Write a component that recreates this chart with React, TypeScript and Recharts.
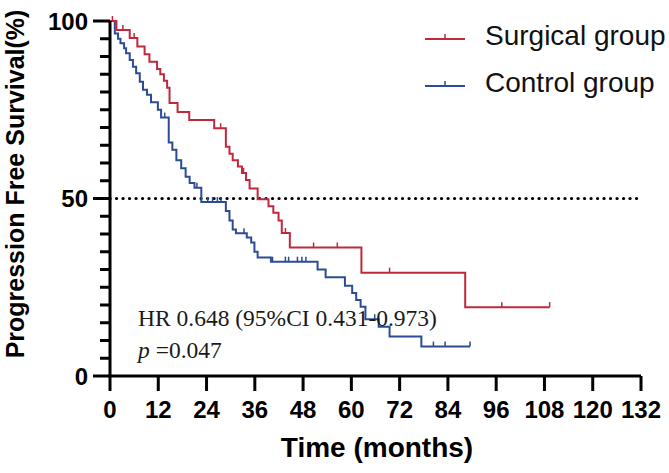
import React from "react";
import { ComposedChart, Line, Scatter, XAxis, YAxis, ReferenceLine, Legend, Label } from "recharts";

// Kaplan-Meier steps (time in months, survival in %)
const surgicalTimes = [0, 1.6, 4.9, 6.8, 8.6, 9.8, 11.7, 12.5, 13.4, 14.2, 14.8, 16.8, 19.7, 25.9, 28.8, 29.7, 30.5, 31.8, 32.8, 33.8, 34.7, 36.7, 39.4, 40.6, 41.9, 42.7, 44.7, 62.5, 88.3, 109.3];
const surgicalSurvival = [100, 97.5, 95.2, 92.8, 90.6, 88.5, 86.5, 85.0, 83.2, 81.2, 76.9, 74.4, 72.1, 69.8, 64.6, 62.6, 60.8, 59.0, 57.2, 55.2, 52.8, 49.8, 47.8, 46.0, 43.8, 40.3, 36.2, 29.1, 19.4, 19.4];
const surgicalCensorTimes = [0.6, 3.2, 6.0, 27.5, 33.2, 43.6, 50.6, 56.5, 69.5, 97.4, 109.3];
const surgicalCensorSurvival = [100, 97.5, 95.2, 69.8, 57.2, 40.3, 36.2, 36.2, 29.1, 19.4, 19.4];

const controlTimes = [0, 1.2, 2.0, 2.6, 3.5, 4.0, 4.9, 5.7, 6.5, 7.4, 8.2, 9.2, 10.2, 11.9, 12.7, 14.6, 15.5, 16.5, 17.7, 18.8, 19.8, 21.0, 22.7, 28.8, 29.7, 30.5, 31.3, 34.0, 35.1, 35.9, 36.7, 40.0, 51.6, 53.6, 58.4, 60.2, 61.2, 62.3, 63.5, 66.8, 69.5, 77.4, 89.5];
const controlSurvival = [100, 96.5, 95.0, 93.7, 92.3, 90.9, 89.0, 87.1, 85.3, 82.9, 80.6, 79.2, 77.1, 75.0, 72.8, 65.8, 63.7, 60.8, 58.5, 56.1, 54.4, 53.0, 49.0, 46.5, 43.8, 41.3, 40.2, 39.0, 37.6, 35.0, 33.4, 32.2, 30.0, 27.8, 25.4, 23.4, 21.4, 19.5, 16.0, 13.9, 11.1, 8.3, 8.3];
const controlCensorTimes = [13.6, 21.6, 24.3, 25.5, 26.7, 27.6, 33.3, 40.4, 43.6, 44.4, 46.6, 47.7, 48.7, 65.8, 80.4, 83.3, 89.5];
const controlCensorSurvival = [72.8, 53.0, 49.0, 49.0, 49.0, 49.0, 40.2, 32.2, 32.2, 32.2, 32.2, 32.2, 32.2, 16.0, 8.3, 8.3, 8.3];

const xTicks = [0, 12, 24, 36, 48, 60, 72, 84, 96, 108, 120, 132];
const yTicks = [0, 5, 10, 15, 20, 25, 30, 35, 40, 45, 50, 55, 60, 65, 70, 75, 80, 85, 90, 95, 100];
const yLabelled = [0, 50, 100];

const RED = "#c0283c";
const BLUE = "#2c4b95";
const SANS = "'Liberation Sans', Arial, sans-serif";
const SERIF = "'Liberation Serif', 'Times New Roman', serif";

const legendItems = [
  { name: "Surgical group", color: RED },
  { name: "Control group", color: BLUE },
];

const toRows = (t: number[], s: number[]) => t.map((v, i) => ({ t: v, s: s[i] }));

const surgical = toRows(surgicalTimes, surgicalSurvival);
const control = toRows(controlTimes, controlSurvival);
const surgicalCensor = toRows(surgicalCensorTimes, surgicalCensorSurvival);
const controlCensor = toRows(controlCensorTimes, controlCensorSurvival);

const censorMark = (color: string) => (props: any) => {
  const { cx, cy } = props;
  return <line x1={cx} x2={cx} y1={cy - 5} y2={cy} stroke={color} strokeWidth={1.5} />;
};

// x here is the axis position (tickSize 0); draw the tick marks ourselves
function YTick(props: any) {
  const { x, y, payload } = props;
  const major = yLabelled.includes(payload.value);
  const len = major ? 17 : 10;
  return (
    <g>
      <rect x={x - len} y={y - 1.5} width={len} height={3} fill="#000" />
      {major && (
        <text x={x - 22} y={y} textAnchor="end" dominantBaseline="central" fontFamily={SANS} fontWeight="bold" fontSize={24} fill="#000">
          {payload.value}
        </text>
      )}
    </g>
  );
}

function LegendBox() {
  return (
    <div style={{ fontFamily: SANS }}>
      {legendItems.map((it) => (
        <div key={it.name} style={{ display: "flex", alignItems: "center", height: 47 }}>
          <svg width={40} height={12} style={{ marginRight: 20 }}>
            <line x1={0} x2={40} y1={9} y2={9} stroke={it.color} strokeWidth={2} />
            <line x1={20} x2={20} y1={4} y2={9} stroke={it.color} strokeWidth={1.5} />
          </svg>
          <span style={{ fontSize: 28, color: "#111", lineHeight: "28px" }}>{it.name}</span>
        </div>
      ))}
    </div>
  );
}

export default function App() {
  return (
    <div style={{ position: "absolute", left: 0, top: 0, width: 669, height: 473, background: "#fff" }}>
      <ComposedChart width={669} height={473} margin={{ top: 21, right: 28, bottom: 0, left: 0 }}>
        <XAxis
          type="number"
          dataKey="t"
          domain={[0, 132]}
          ticks={xTicks}
          allowDataOverflow
          height={97}
          tickSize={15}
          tickMargin={10}
          axisLine={{ stroke: "#000", strokeWidth: 3 }}
          tickLine={{ stroke: "#000", strokeWidth: 3 }}
          tick={{ fontFamily: SANS, fontWeight: "bold", fontSize: 24, fill: "#000" }}
          interval={0}
        >
          <Label
            content={() => (
              <text x={377} y={457} textAnchor="middle" fontFamily={SANS} fontWeight="bold" fontSize={28} fill="#000">
                Time (months)
              </text>
            )}
          />
        </XAxis>
        <YAxis
          type="number"
          domain={[0, 100]}
          ticks={yTicks}
          width={110}
          tickSize={0}
          tickMargin={0}
          tickLine={false}
          interval={0}
          axisLine={{ stroke: "#000", strokeWidth: 3 }}
          tick={<YTick />}
        >
          <Label
            content={() => (
              <text transform="translate(24,184) rotate(-90)" x={0} y={0} textAnchor="middle" fontFamily={SANS} fontWeight="bold" fontSize={25} fill="#000">
                Progression Free Survival(%)
              </text>
            )}
          />
        </YAxis>
        <ReferenceLine y={50} stroke="#000" strokeWidth={3.2} strokeDasharray="0.1 6.4" strokeLinecap="round" />
        <Line data={control} dataKey="s" type="stepAfter" stroke={BLUE} strokeWidth={2} dot={false} activeDot={false} isAnimationActive={false} />
        <Line data={surgical} dataKey="s" type="stepAfter" stroke={RED} strokeWidth={2} dot={false} activeDot={false} isAnimationActive={false} />
        <Scatter data={controlCensor} dataKey="s" shape={censorMark(BLUE)} isAnimationActive={false} />
        <Scatter data={surgicalCensor} dataKey="s" shape={censorMark(RED)} isAnimationActive={false} />
        <Legend
          layout="horizontal"
          verticalAlign="middle"
          align="center"
          content={<LegendBox />}
          wrapperStyle={{ position: "absolute", left: 425, top: 12, width: 244, height: 94 }}
        />
      </ComposedChart>
      <div style={{ position: "absolute", left: 138, top: 302, fontFamily: SERIF, fontSize: 23.5, color: "#1a1a1a", lineHeight: "32px", whiteSpace: "nowrap" }}>
        <div>HR 0.648 (95%CI 0.431-0.973)</div>
        <div>
          <i>p</i> =0.047
        </div>
      </div>
    </div>
  );
}
